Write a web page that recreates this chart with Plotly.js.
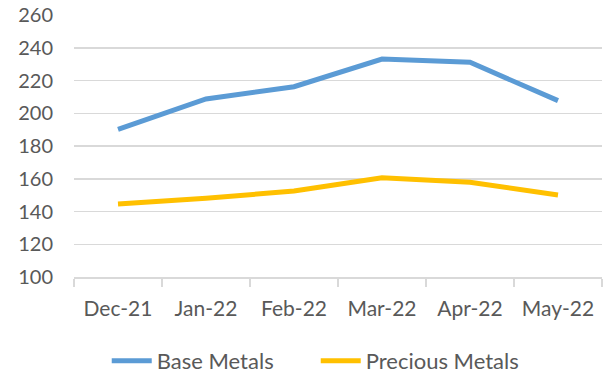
<!DOCTYPE html>
<html>
<head>
<meta charset="utf-8">
<script src="https://cdn.plot.ly/plotly-3.0.1.min.js"></script>
<style>
  html, body { margin: 0; padding: 0; background: #fff; }
  #chart { width: 606px; height: 374px; }
</style>
</head>
<body>
<div id="chart"></div>
<script>
// Monthly metal price indices
const months = ["Dec-21", "Jan-22", "Feb-22", "Mar-22", "Apr-22", "May-22"];
const baseMetals = [190.2, 208.7, 216.2, 233.1, 231.1, 207.7];
const preciousMetals = [144.6, 148.1, 152.5, 160.6, 157.8, 150.1];
const yTicks = [100, 120, 140, 160, 180, 200, 220, 240, 260];

const textColor = "#595959";
const gridColor = "#d9d9d9";
const fontFamily = "Lato, 'Open Sans', sans-serif";

const traces = [
  {
    x: months, y: baseMetals, name: "Base Metals",
    type: "scatter", mode: "lines",
    line: { color: "#5B9BD5", width: 5, shape: "linear" }
  },
  {
    x: months, y: preciousMetals, name: "Precious Metals",
    type: "scatter", mode: "lines",
    line: { color: "#FFC000", width: 5, shape: "linear" }
  }
];

const layout = {
  width: 606, height: 374,
  margin: { l: 74, r: 4, t: 15, b: 97, autoexpand: false },
  paper_bgcolor: "#fff", plot_bgcolor: "#fff",
  font: { family: fontFamily, size: 20, color: textColor },
  showlegend: true,
  legend: {
    orientation: "h", x: 0.062, xanchor: "left",
    y: -0.32, yanchor: "middle",
    font: { family: fontFamily, size: 22, color: textColor },
    entrywidth: 154, entrywidthmode: "pixels",
    itemwidth: 40, tracegroupgap: 0
  },
  xaxis: {
    type: "category", range: [-0.5, 5.5],
    showgrid: false, zeroline: false,
    showline: true, linecolor: gridColor, linewidth: 1.5,
    ticks: "outside", tickson: "boundaries", ticklen: 8,
    tickcolor: gridColor, tickwidth: 1.5,
    ticklabelstandoff: 12,
    tickfont: { family: fontFamily, size: 21, color: textColor }
  },
  yaxis: {
    range: [100, 260], tickvals: yTicks, ticktext: yTicks.map(String),
    showgrid: true, gridcolor: gridColor, gridwidth: 1.5,
    zeroline: false, showline: false, ticks: "",
    ticklabelstandoff: 20,
    tickfont: { family: fontFamily, size: 20, color: textColor }
  }
};

Plotly.newPlot("chart", traces, layout, { displayModeBar: false, staticPlot: true });
</script>
</body>
</html>
